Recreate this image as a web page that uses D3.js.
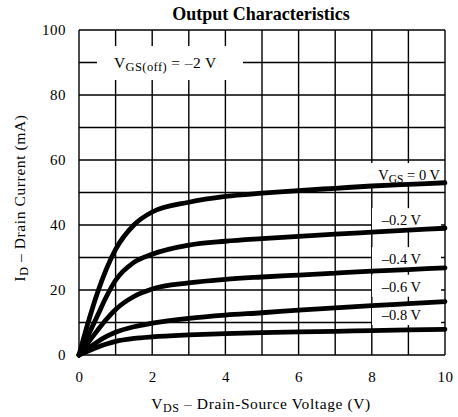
<!DOCTYPE html>
<html lang="en">
<head>
<meta charset="UTF-8">
<title>Output Characteristics</title>
<script src="https://d3js.org/d3.v7.min.js"></script>
<style>
  body { margin: 0; background: #fff; }
  svg text { font-family: "Liberation Serif", "Times New Roman", serif; fill: #000; }
</style>
</head>
<body>
<script>
// data
let vds = [0, 0.25, 0.5, 0.75, 1, 1.5, 2, 3, 4, 5, 6, 7, 8, 9, 10];
let id_0 = [0, 10, 19, 26.5, 32.5, 40, 44, 47, 48.8, 49.8, 50.6, 51.3, 52, 52.5, 53];
let id_02 = [0, 6, 12, 18, 23, 28.5, 31, 33.8, 35, 35.8, 36.5, 37.2, 37.8, 38.4, 39];
let id_04 = [0, 3.8, 7.5, 11, 14, 18, 20.3, 22.2, 23.3, 24, 24.6, 25.2, 25.8, 26.3, 26.8];
let id_06 = [0, 2, 4, 5.7, 7, 8.7, 9.8, 11.3, 12.3, 13, 13.8, 14.5, 15.2, 15.8, 16.4];
let id_08 = [0, 1.2, 2.4, 3.4, 4.2, 5.1, 5.6, 6.2, 6.6, 6.9, 7.1, 7.3, 7.5, 7.7, 7.9];
let curve_labels = ["0 V", "\u20130.2 V", "\u20130.4 V", "\u20130.6 V", "\u20130.8 V"];
let x_ticks = [0, 2, 4, 6, 8, 10];
let y_ticks = [0, 20, 40, 60, 80, 100];

let W = 458, H = 417;
let margin = {left: 79, right: 13, top: 30, bottom: 62};

let svg = d3.select("body").append("svg")
    .attr("width", W)
    .attr("height", H);

let x = d3.scaleLinear().domain([0, 10]).range([margin.left, W - margin.right]);
let y = d3.scaleLinear().domain([0, 100]).range([H - margin.bottom, margin.top]);

// grid
let grid = svg.append("g").attr("stroke", "#000").attr("stroke-width", 1.4);
grid.selectAll(".vg").data(d3.range(0, 11)).enter().append("line")
    .attr("x1", d => x(d)).attr("x2", d => x(d))
    .attr("y1", y(0)).attr("y2", y(100));
grid.selectAll(".hg").data(d3.range(0, 101, 10)).enter().append("line")
    .attr("x1", x(0)).attr("x2", x(10))
    .attr("y1", d => y(d)).attr("y2", d => y(d));

// axes (labels only, the grid is the frame)
let xAxis = d3.axisBottom(x).tickValues(x_ticks).tickSize(0).tickPadding(16);
let gx = svg.append("g").attr("transform", `translate(0,${y(0)})`).call(xAxis);
let yAxis = d3.axisLeft(y).tickValues(y_ticks).tickSize(0).tickPadding(13);
let gy = svg.append("g").attr("transform", `translate(${x(0)},0)`).call(yAxis);
[gx, gy].forEach(g => {
    g.select(".domain").remove();
    g.selectAll("text").style("font-size", "15px").style("font-family", "Liberation Serif")
        .style("letter-spacing", "0.5px");
});

// white label boxes behind text
let lab_y = [55.4, 41.5, 29.5, 21, 12.3];
let box_x = [350, 372, 372, 372, 372];
svg.selectAll(".box").data(lab_y).enter().append("rect")
    .attr("x", (d, i) => box_x[i])
    .attr("width", (d, i) => x(10) - 4 - box_x[i])
    .attr("y", d => y(d) - 12)
    .attr("height", 22)
    .attr("fill", "#fff");
svg.append("rect").attr("x", 97).attr("y", 46).attr("width", 146).attr("height", 34).attr("fill", "#fff");

// curves
let series = [id_0, id_02, id_04, id_06, id_08];
let line = d3.line()
    .x((d, i) => x(vds[i]))
    .y(d => y(d))
    .curve(d3.curveMonotoneX);
svg.selectAll(".curve").data(series).enter().append("path")
    .attr("d", line)
    .attr("fill", "none")
    .attr("stroke", "#000")
    .attr("stroke-width", 4.8)
    .attr("stroke-linecap", "round");

// curve labels
let t0 = svg.append("text").attr("x", 440).attr("y", y(lab_y[0]) + 5)
    .attr("text-anchor", "end").style("font-size", "14.5px");
t0.append("tspan").text("V");
t0.append("tspan").attr("dy", 3).style("font-size", "11.5px").text("GS");
t0.append("tspan").attr("dy", -3).text("  = " + curve_labels[0]);

svg.selectAll(".clab").data(curve_labels.slice(1)).enter().append("text")
    .attr("x", 421)
    .attr("y", (d, i) => y(lab_y[i + 1]) + 5)
    .attr("text-anchor", "end")
    .style("font-size", "14.5px")
    .text(d => d);

// VGS(off) note
let t1 = svg.append("text").attr("x", 114).attr("y", 68)
    .style("font-size", "15.5px").style("letter-spacing", "0.4px");
t1.append("tspan").text("V");
t1.append("tspan").attr("dy", 3).style("font-size", "12.5px").text("GS(off)");
t1.append("tspan").attr("dy", -3).text(" = \u20132 V");

// title
svg.append("text").attr("x", 261).attr("y", 20)
    .attr("text-anchor", "middle")
    .style("font-size", "18px").style("font-weight", "bold")
    .text("Output Characteristics");

// axis titles
let xt = svg.append("text").attr("x", 261).attr("y", 409)
    .attr("text-anchor", "middle")
    .style("font-size", "15.5px").style("letter-spacing", "0.6px");
xt.append("tspan").text("V");
xt.append("tspan").attr("dy", 3).style("font-size", "12px").text("DS");
xt.append("tspan").attr("dy", -3).text(" \u2013 Drain-Source Voltage (V)");

let yt = svg.append("text")
    .attr("transform", "translate(25,198) rotate(-90)")
    .attr("text-anchor", "middle")
    .style("font-size", "15.5px").style("letter-spacing", "0.6px");
yt.append("tspan").text("I");
yt.append("tspan").attr("dy", 3).style("font-size", "12px").text("D");
yt.append("tspan").attr("dy", -3).text(" \u2013 Drain Current (mA)");
</script>
</body>
</html>
